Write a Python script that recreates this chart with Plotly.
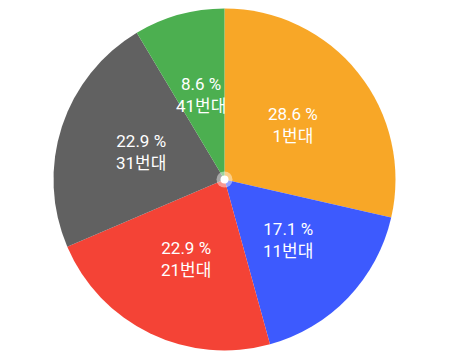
import math
import plotly.graph_objects as go

labels = ["1번대", "11번대", "21번대", "31번대", "41번대"]
values = [10, 6, 8, 8, 3]
colors = ["#F8A727", "#3D5AFE", "#F44336", "#616161", "#4CAF50"]

total = sum(values)
texts = [f"{v / total * 100:.1f} %<br>{l}" for v, l in zip(values, labels)]

W, H = 450, 358
cx, cy, R = 224.5, 179.5, 171
label_r = 0.515 * R
font = dict(family="Roboto, Noto Sans CJK KR", size=17, color="white")

fig = go.Figure(go.Pie(
    labels=labels,
    values=values,
    textinfo="none",
    sort=False,
    direction="clockwise",
    rotation=0,
    marker=dict(colors=colors, line=dict(width=0)),
    hoverinfo="none",
    domain=dict(x=[(cx - R) / W, (cx + R) / W], y=[(H - cy - R) / H, (H - cy + R) / H]),
))

annotations = []
acc = 0
for v, t in zip(values, texts):
    mid = (acc + v / 2) / total * 2 * math.pi
    acc += v
    px = cx + label_r * math.sin(mid)
    py = cy - label_r * math.cos(mid)
    annotations.append(dict(
        x=px / W, y=(H - py) / H, xref="paper", yref="paper",
        text=t, showarrow=False, xanchor="center", yanchor="middle",
        font=font, align="center",
    ))

def circ(r, color, opacity):
    return dict(type="circle", xref="paper", yref="paper",
                x0=(cx - r) / W, x1=(cx + r) / W,
                y0=(H - cy - r) / H, y1=(H - cy + r) / H,
                fillcolor=color, opacity=opacity, line=dict(width=0))

fig.update_layout(
    width=W, height=H,
    margin=dict(l=0, r=0, t=0, b=0),
    paper_bgcolor="white",
    showlegend=False,
    annotations=annotations,
    shapes=[circ(8, "white", 0.45), circ(4, "white", 1)],
)

fig.write_html("out.html", config={"displayModeBar": False},
               post_script="document.body.style.margin='0';")
